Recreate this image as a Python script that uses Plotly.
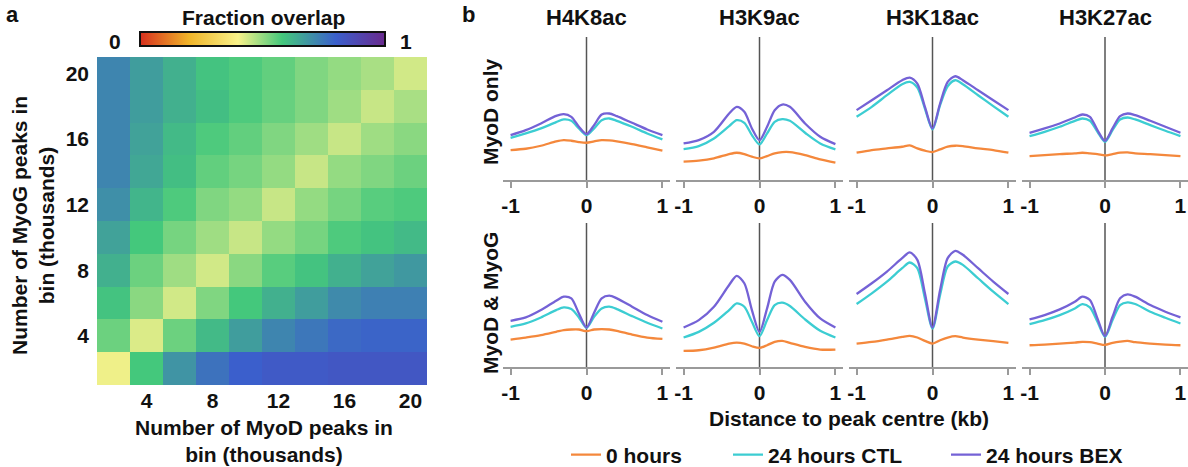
import plotly.graph_objects as go

# ---------------- data ----------------
bins = [2, 4, 6, 8, 10, 12, 14, 16, 18, 20]           # thousands of peaks
bin_ticks = [4, 8, 12, 16, 20]
# fraction overlap, rows = MyoG bin (bottom->top), cols = MyoD bin (left->right)
overlap = [
    [0.41, 0.58, 0.69, 0.76, 0.80, 0.82, 0.82, 0.83, 0.83, 0.83],
    [0.54, 0.43, 0.54, 0.61, 0.67, 0.72, 0.75, 0.78, 0.79, 0.79],
    [0.59, 0.51, 0.44, 0.52, 0.58, 0.63, 0.67, 0.71, 0.73, 0.73],
    [0.63, 0.54, 0.49, 0.44, 0.51, 0.56, 0.59, 0.63, 0.66, 0.68],
    [0.66, 0.58, 0.53, 0.49, 0.45, 0.50, 0.53, 0.57, 0.59, 0.61],
    [0.70, 0.62, 0.57, 0.52, 0.50, 0.45, 0.50, 0.53, 0.56, 0.57],
    [0.72, 0.65, 0.60, 0.55, 0.53, 0.50, 0.45, 0.50, 0.52, 0.54],
    [0.72, 0.66, 0.61, 0.57, 0.55, 0.52, 0.49, 0.45, 0.49, 0.51],
    [0.72, 0.67, 0.63, 0.60, 0.57, 0.545, 0.52, 0.49, 0.45, 0.48],
    [0.72, 0.67, 0.63, 0.59, 0.57, 0.55, 0.52, 0.50, 0.48, 0.44],
]

marks = ["H4K8ac", "H3K9ac", "H3K18ac", "H3K27ac"]
rows = ["MyoD only", "MyoD & MyoG"]
conditions = ["0 hours", "24 hours CTL", "24 hours BEX"]
dist = [-1, -0.8, -0.6, -0.4, -0.3, -0.2, -0.1, 0, 0.1, 0.2, 0.3, 0.4, 0.6, 0.8, 1]  # kb

# signal (arbitrary units) per row, per mark, per condition
only_h4k8_0h  = [0.90, 0.94, 1.03, 1.16, 1.20, 1.18, 1.14, 1.12, 1.16, 1.20, 1.19, 1.16, 1.08, 0.98, 0.88]
only_h4k8_ctl = [1.27, 1.40, 1.55, 1.74, 1.82, 1.78, 1.55, 1.35, 1.55, 1.80, 1.85, 1.78, 1.60, 1.40, 1.22]
only_h4k8_bex = [1.35, 1.50, 1.70, 1.93, 1.98, 1.90, 1.60, 1.38, 1.65, 1.97, 2.00, 1.92, 1.72, 1.52, 1.35]

only_h3k9_0h  = [0.55, 0.58, 0.65, 0.78, 0.82, 0.78, 0.70, 0.65, 0.72, 0.80, 0.84, 0.84, 0.75, 0.62, 0.52]
only_h3k9_ctl = [0.93, 1.02, 1.25, 1.62, 1.80, 1.72, 1.35, 1.07, 1.40, 1.75, 1.83, 1.78, 1.42, 1.10, 0.92]
only_h3k9_bex = [1.10, 1.20, 1.45, 2.00, 2.20, 2.05, 1.55, 1.20, 1.60, 2.10, 2.27, 2.20, 1.70, 1.30, 1.08]

only_h3k18_0h  = [0.82, 0.90, 0.95, 1.00, 1.04, 0.95, 0.88, 0.84, 0.92, 1.00, 1.03, 1.02, 0.95, 0.90, 0.82]
only_h3k18_ctl = [1.90, 2.20, 2.55, 2.88, 2.95, 2.78, 2.15, 1.52, 2.25, 2.82, 3.00, 2.88, 2.55, 2.22, 1.90]
only_h3k18_bex = [2.10, 2.40, 2.70, 3.00, 3.08, 2.90, 2.20, 1.55, 2.30, 2.95, 3.12, 3.00, 2.70, 2.40, 2.10]

only_h3k27_0h  = [0.72, 0.75, 0.78, 0.80, 0.82, 0.80, 0.78, 0.74, 0.78, 0.82, 0.83, 0.80, 0.78, 0.75, 0.72]
only_h3k27_ctl = [1.32, 1.45, 1.60, 1.78, 1.85, 1.78, 1.45, 1.15, 1.50, 1.82, 1.88, 1.82, 1.65, 1.48, 1.32]
only_h3k27_bex = [1.42, 1.55, 1.70, 1.88, 1.97, 1.90, 1.50, 1.18, 1.55, 1.92, 2.00, 1.95, 1.78, 1.60, 1.42]

both_h4k8_0h  = [0.82, 0.88, 0.95, 1.05, 1.10, 1.12, 1.12, 1.07, 1.12, 1.13, 1.12, 1.08, 0.97, 0.88, 0.84]
both_h4k8_ctl = [1.20, 1.30, 1.48, 1.70, 1.78, 1.73, 1.48, 1.17, 1.50, 1.75, 1.80, 1.73, 1.52, 1.32, 1.15]
both_h4k8_bex = [1.38, 1.48, 1.70, 1.98, 2.10, 2.05, 1.60, 1.18, 1.62, 2.05, 2.13, 2.05, 1.80, 1.55, 1.35]

both_h3k9_0h  = [0.48, 0.50, 0.58, 0.70, 0.73, 0.70, 0.62, 0.57, 0.65, 0.75, 0.78, 0.72, 0.60, 0.52, 0.52]
both_h3k9_ctl = [0.88, 1.05, 1.32, 1.70, 1.90, 1.80, 1.35, 0.92, 1.40, 1.85, 1.92, 1.82, 1.42, 1.08, 0.88]
both_h3k9_bex = [1.18, 1.40, 1.80, 2.45, 2.72, 2.50, 1.70, 1.05, 1.75, 2.55, 2.75, 2.60, 1.95, 1.45, 1.18]

both_h3k18_0h  = [0.70, 0.75, 0.82, 0.90, 0.93, 0.88, 0.78, 0.70, 0.80, 0.88, 0.92, 0.88, 0.82, 0.77, 0.72]
both_h3k18_ctl = [1.88, 2.20, 2.55, 2.95, 3.12, 2.95, 2.05, 1.15, 2.15, 3.00, 3.15, 3.05, 2.65, 2.25, 1.88]
both_h3k18_bex = [2.18, 2.50, 2.85, 3.25, 3.42, 3.20, 2.20, 1.18, 2.30, 3.25, 3.47, 3.35, 2.95, 2.55, 2.18]

both_h3k27_0h  = [0.65, 0.67, 0.70, 0.73, 0.75, 0.74, 0.70, 0.66, 0.72, 0.76, 0.78, 0.74, 0.70, 0.67, 0.65]
both_h3k27_ctl = [1.28, 1.40, 1.55, 1.75, 1.88, 1.78, 1.35, 0.90, 1.40, 1.85, 1.93, 1.88, 1.65, 1.47, 1.30]
both_h3k27_bex = [1.42, 1.55, 1.72, 1.95, 2.10, 2.00, 1.45, 0.92, 1.50, 2.05, 2.17, 2.10, 1.85, 1.65, 1.48]

profiles = [
    [[only_h4k8_0h, only_h4k8_ctl, only_h4k8_bex],
     [only_h3k9_0h, only_h3k9_ctl, only_h3k9_bex],
     [only_h3k18_0h, only_h3k18_ctl, only_h3k18_bex],
     [only_h3k27_0h, only_h3k27_ctl, only_h3k27_bex]],
    [[both_h4k8_0h, both_h4k8_ctl, both_h4k8_bex],
     [both_h3k9_0h, both_h3k9_ctl, both_h3k9_bex],
     [both_h3k18_0h, both_h3k18_ctl, both_h3k18_bex],
     [both_h3k27_0h, both_h3k27_ctl, both_h3k27_bex]],
]

# ---------------- styling ----------------
W, H = 1188, 467
FONT = "Liberation Sans, Arial, sans-serif"
TXT = "#111111"
line_colors = ["#f4883c", "#3ccdd2", "#7462d6"]
colorscale = [[0.0, "#d7301f"], [0.2, "#f0b429"], [0.4, "#f9f28a"],
              [0.58, "#44c87c"], [0.8, "#3b5fcc"], [1.0, "#6a2a8e"]]

def px(x):
    return x / W

def py(y):
    return 1 - y / H

fig = go.Figure()

# heatmap
fig.add_trace(go.Heatmap(
    x=bins, y=bins, z=overlap, zmin=0, zmax=1, colorscale=colorscale,
    xaxis="x", yaxis="y", hoverinfo="skip",
    colorbar=dict(orientation="h", x=px(262.5), xanchor="center",
                  y=py(40.5), yanchor="middle", len=265 / W, lenmode="fraction",
                  thickness=14, outlinewidth=2, outlinecolor="#111",
                  showticklabels=False, ticks=""),
))

panel_dom = [(503, 670), (676, 843), (849, 1016), (1022, 1188)]
row_dom = [(37, 180), (223, 367)]
legend_names = ["legend", "legend2", "legend3"]
legend_x = [566, 728, 946]

layout = dict(
    width=W, height=H, margin=dict(l=0, r=0, t=0, b=0, autoexpand=False),
    paper_bgcolor="white", plot_bgcolor="white",
    font=dict(family=FONT, size=19, color=TXT, weight="bold"),
    xaxis=dict(domain=[px(97), px(427)], range=[1, 21], tickvals=bin_ticks,
               showgrid=False, zeroline=False, showline=False, ticks="",
               ticklabelstandoff=1, tickfont=dict(size=21), anchor="y"),
    yaxis=dict(domain=[py(385), py(57)], range=[1, 21], tickvals=bin_ticks,
               showgrid=False, zeroline=False, showline=False, ticks="",
               ticklabelstandoff=7, tickfont=dict(size=21), anchor="x"),
    shapes=[], annotations=[],
)
for name, lx in zip(legend_names, legend_x):
    layout[name] = dict(orientation="h", x=px(lx), xanchor="left", y=py(455),
                        yanchor="middle", font=dict(size=21), bgcolor="rgba(0,0,0,0)")

idx = 2
for r in range(2):
    for c in range(4):
        xa, ya = f"x{idx}", f"y{idx}"
        for k in range(3):
            fig.add_trace(go.Scatter(
                x=dist, y=profiles[r][c][k], mode="lines",
                line=dict(color=line_colors[k], width=2.3, shape="spline", smoothing=0.8),
                name=conditions[k], showlegend=(idx == 2), legend=legend_names[k],
                xaxis=xa, yaxis=ya, hoverinfo="skip",
            ))
        layout[f"xaxis{idx}"] = dict(
            domain=[px(panel_dom[c][0]), px(panel_dom[c][1])], range=[-1.1, 1.1],
            tickvals=[-1, 0, 1], ticktext=["-1", "0", "1"], showgrid=False, zeroline=False,
            showline=True, linecolor="#9a9a9a", linewidth=1.5, ticks="outside",
            ticklen=6, tickwidth=1.5, tickcolor="#9a9a9a", tickfont=dict(size=21),
            anchor=ya)
        layout[f"yaxis{idx}"] = dict(
            domain=[py(row_dom[r][1]), py(row_dom[r][0])], range=[0, 4.3],
            visible=False, anchor=xa)
        layout["shapes"].append(dict(
            type="line", xref=xa, yref=f"{ya} domain", x0=0, x1=0, y0=0, y1=1,
            line=dict(color="#555555", width=1.5), layer="below"))
        if r == 0:
            layout["annotations"].append(dict(
                text=marks[c], xref=xa, yref="paper", x=0, y=py(18),
                showarrow=False, font=dict(size=22), xanchor="center", yanchor="middle"))
        idx += 1

def ann(text, x, y, size=20, angle=0):
    layout["annotations"].append(dict(
        text=text, xref="paper", yref="paper", x=px(x), y=py(y), showarrow=False,
        font=dict(size=size), textangle=angle, xanchor="center", yanchor="middle"))

ann("a", 12, 14, size=22)
ann("b", 468, 14, size=22)
ann("Fraction overlap", 263, 17, size=21)
ann("0", 115, 41, size=21)
ann("1", 406, 41, size=21)
ann("Number of MyoG peaks in<br>bin (thousands)", 33, 226, size=21, angle=-90)
ann("Number of MyoD peaks in<br>bin (thousands)", 264, 441, size=21)
ann(rows[0], 490, 112, size=21, angle=-90)
ann(rows[1], 490, 303, size=21, angle=-90)
ann("Distance to peak centre (kb)", 849, 418, size=21)

fig.update_layout(**layout)
fig.write_html("out.html", config={"displayModeBar": False},
               post_script="document.body.style.margin='0px';document.body.style.overflow='hidden';")
